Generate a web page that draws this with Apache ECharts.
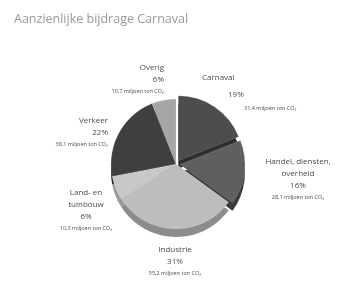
<!DOCTYPE html>
<html>
<head>
<meta charset="utf-8">
<script src="https://cdn.jsdelivr.net/npm/echarts@6/dist/echarts.min.js"></script>
<style>
  html, body { margin: 0; padding: 0; background: #fff; }
  #chart { width: 338px; height: 281px; }
</style>
</head>
<body>
<div id="chart"></div>
<script>
// sectoren, aandeel (%) en uitstoot (miljoen ton CO2)
const categories = ['Carnaval', 'Handel, diensten,\noverheid', 'Industrie', 'Land- en\ntuinbouw', 'Verkeer', 'Overig']
const percents = [19, 16, 31, 6, 22, 6]
const co2 = ['31,4', '28,1', '55,2', '10,3', '38,1', '10,7']
const exploded = [true, true, false, false, false, false]

const topColors = ['#4d4d4d', '#5f5f5f', '#bdbdbd', '#c8c8c8', '#3f3f3f', '#a6a6a6']
const sideColors = ['#2e2e2e', '#3a3a3a', '#8c8c8c', '#9a9a9a', '#2a2a2a', '#7a7a7a']

const font = 'Open Sans'
const labelColor = '#4a4a4a'

// labelplaatsing: ankerpunt (boven) en uitlijning
const labelAlign = ['left', 'center', 'center', 'center', 'right', 'right']
const labelAnchor = [[202, 69], [298, 156], [175, 244], [86, 187], [108, 115], [164, 62]]

const dom = document.getElementById('chart')
const chart = echarts.init(dom, null, { renderer: 'canvas' })

function sliceData (colors) {
  return categories.map((name, i) => ({
    name: name,
    value: percents[i],
    selected: exploded[i],
    itemStyle: { color: colors[i] }
  }))
}

const rich = {
  n: { fontFamily: font, fontSize: 8, color: labelColor, lineHeight: 12 },
  p: { fontFamily: font, fontSize: 8, color: labelColor, lineHeight: 12 },
  s: { fontFamily: font, fontSize: 5.5, color: labelColor, lineHeight: 10 },
  // Carnaval trapsgewijs
  cn: { fontFamily: font, fontSize: 8, color: labelColor, lineHeight: 18 },
  cp: { fontFamily: font, fontSize: 8, color: labelColor, lineHeight: 15, padding: [0, 0, 0, 26] },
  cs: { fontFamily: font, fontSize: 5.5, color: labelColor, lineHeight: 12, padding: [0, 0, 0, 42] }
}

const pieBase = {
  type: 'pie',
  radius: [0, 65],
  startAngle: 90,
  clockwise: true,
  selectedMode: 'multiple',
  selectedOffset: 4,
  label: { show: false },
  labelLine: { show: false }
}

const option = {
  animation: false,
  title: {
    text: 'Aanzienlijke bijdrage Carnaval',
    left: 9,
    top: 8,
    textStyle: { fontFamily: font, fontSize: 12.5, fontWeight: 'normal', color: '#999' }
  },
  series: [
    // zijkant (3D-rand)
    Object.assign({}, pieBase, {
      center: [176, 172],
      silent: true,
      z: 1,
      data: sliceData(sideColors)
    }),
    // bovenvlak
    Object.assign({}, pieBase, {
      center: [176, 164],
      z: 2,
      itemStyle: { borderColor: 'rgba(255,255,255,0.25)', borderWidth: 0.5 },
      data: sliceData(topColors)
    }),
    // labels
    {
      type: 'pie',
      center: [176, 164],
      radius: [0, 65],
      startAngle: 90,
      clockwise: true,
      silent: true,
      z: 3,
      itemStyle: { color: 'rgba(0,0,0,0)' },
      label: {
        show: true,
        position: 'outside',
        alignTo: 'none',
        overflow: 'none',
        formatter: function (p) {
          const i = p.dataIndex
          if (i === 0) {
            return '{cn|' + p.name + '}\n{cp|' + percents[i] + '%}\n{cs|' + co2[i] + ' miljoen ton CO₂}'
          }
          const lines = p.name.split('\n').map(t => '{n|' + t + '}')
          return lines.join('\n') + '\n{p|' + percents[i] + '%}\n{s|' + co2[i] + ' miljoen ton CO₂}'
        },
        rich: rich
      },
      labelLine: { show: false },
      labelLayout: function (params) {
        const i = params.dataIndex
        return {
          x: labelAnchor[i][0],
          y: labelAnchor[i][1],
          align: labelAlign[i],
          verticalAlign: 'top'
        }
      },
      data: categories.map((name, i) => ({
        name: name,
        value: percents[i],
        label: { align: labelAlign[i] }
      }))
    }
  ]
}

chart.setOption(option)
window.addEventListener('resize', () => chart.resize())
</script>
</body>
</html>
